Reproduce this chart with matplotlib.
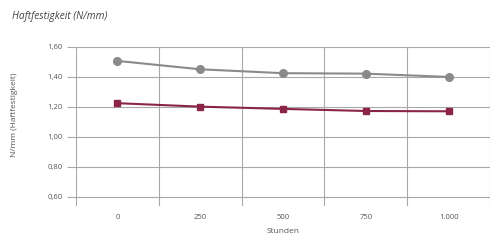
import matplotlib
matplotlib.use("Agg")
import matplotlib.pyplot as plt
import numpy as np

plt.rcParams["font.family"] = ["Open Sans", "DejaVu Sans"]

# data
hours = ["0", "250", "500", "750", "1.000"]
series_grey = [1.507, 1.451, 1.425, 1.422, 1.400]
series_red = [1.225, 1.202, 1.187, 1.173, 1.171]
y_ticks = [0.60, 0.80, 1.00, 1.20, 1.40, 1.60]

GRID = "#a8a8a8"
TXT = "#555555"

fig = plt.figure(figsize=(5.0, 2.42), dpi=100)
ax = fig.add_axes([0.152, 0.149, 0.828, 0.657])

x = np.arange(len(hours))
ax.plot(x, series_grey, "-o", color="#8a8a8a", lw=1.5, ms=5.5, zorder=3)
ax.plot(x, series_red, "-s", color="#8b2448", lw=1.5, ms=5, zorder=3)

ax.set_xlim(-0.5, len(hours) - 0.5)
ax.set_ylim(0.54, 1.60)
ax.set_xticks(x)
ax.set_xticklabels(hours)
ax.set_xticks(np.arange(-0.5, len(hours)), minor=True)
ax.set_yticks(y_ticks)
ax.set_yticklabels([f"{v:.2f}".replace(".", ",") for v in y_ticks])

ax.grid(True, axis="y", color=GRID, lw=0.8)
ax.grid(True, axis="x", which="minor", color=GRID, lw=0.8)
for s in ax.spines.values():
    s.set_visible(False)

ax.tick_params(axis="y", length=6.5, width=0.8, color=GRID, pad=3, labelsize=5.5, labelcolor=TXT)
ax.tick_params(axis="x", which="major", length=0, pad=6, labelsize=5.5, labelcolor=TXT)
ax.tick_params(axis="x", which="minor", length=0)

ax.set_xlabel("Stunden", fontsize=6, color=TXT, labelpad=5)
fig.text(0.03, 0.525, "N/mm (Haftfestigkeit)", rotation=90, fontsize=6,
         color=TXT, ha="center", va="center")
fig.text(0.025, 0.93, "Haftfestigkeit (N/mm)", fontsize=7.3, style="italic",
         color="#444444", ha="left", va="center")

fig.savefig("out.png", dpi=100)
